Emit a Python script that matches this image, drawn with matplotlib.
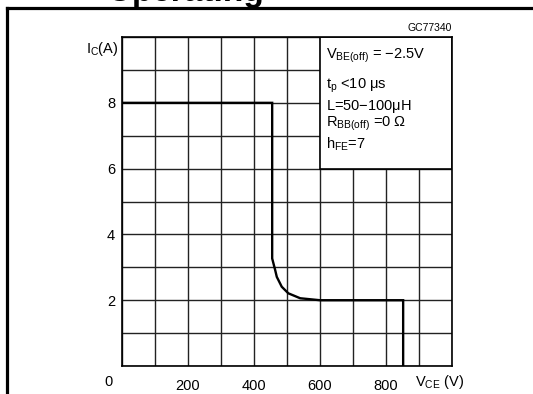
#========================================#
# Reverse biased safe operating area chart
#========================================#
import numpy as np
import matplotlib.pyplot as plt
from matplotlib.patches import Rectangle
from matplotlib.lines import Line2D

plt.rcParams['font.family'] = ['Liberation Sans', 'DejaVu Sans']
plt.rcParams['mathtext.fontset'] = 'custom'
plt.rcParams['mathtext.rm'] = 'Liberation Sans'
plt.rcParams['mathtext.it'] = 'Liberation Sans'

# Data
#========================================#
vce = [0, 455, 455, 464, 469, 484, 504, 540, 600, 852, 852]
ic = [8, 8, 3.27, 2.92, 2.71, 2.41, 2.21, 2.06, 2.0, 2.0, 0]

x_ticks = [200, 400, 600, 800]
y_ticks = [2, 4, 6, 8]
x_grid = np.arange(0, 1001, 100)
y_grid = np.arange(0, 11, 1)

notes = [r"$\mathregular{V_{BE(off)}}$ = $-$2.5V",
         r"t$_\mathregular{p}$ <10 $\mu$s",
         r"L=50$-$100$\mu$H",
         r"$\mathregular{R_{BB(off)}}$ =0 $\Omega$",
         r"$\mathregular{h_{FE}}$=7"]
note_y = [9.35, 8.44, 7.78, 7.27, 6.62]

# Figure
#========================================#
fig = plt.figure(figsize=(5.33, 3.94), dpi=100)
ax = fig.add_axes([0.229, 0.071, 0.619, 0.835])

ax.set_xlim(0, 1000)
ax.set_ylim(0, 10)

# grid
for gx in x_grid:
    ax.axvline(gx, color='#222222', lw=1.0, zorder=1)
for gy in y_grid:
    ax.axhline(gy, color='#222222', lw=1.0, zorder=1)

# notes box (hides the grid in the upper right)
ax.add_patch(Rectangle((600, 6), 400, 4, facecolor='white',
                       edgecolor='black', lw=1.2, zorder=2))
for txt, ty in zip(notes, note_y):
    ax.text(618, ty, txt, fontsize=10.5, va='baseline', ha='left', zorder=3)

# curve
ax.plot(vce, ic, color='black', lw=1.7, zorder=4, solid_joinstyle='miter')

# axes and labels
#========================================#
for s in ax.spines.values():
    s.set_linewidth(1.2)
    s.set_zorder(5)
ax.set_xticks(x_ticks)
ax.set_yticks(y_ticks)
ax.tick_params(length=0, labelsize=10.5)
ax.tick_params(axis='x', pad=9)
ax.tick_params(axis='y', pad=5)

ax.text(-0.042, -0.048, "0", transform=ax.transAxes, fontsize=10.5,
        ha='center', va='center')
ax.text(-0.012, 0.963, r"$\mathregular{I_C}$(A)", transform=ax.transAxes,
        fontsize=10.5, ha='right', va='center')
ax.text(0.888, -0.048, r"$\mathregular{V_{CE}}$ (V)", transform=ax.transAxes,
        fontsize=10.5, ha='left', va='center')
ax.text(1.0, 1.027, "GC77340", transform=ax.transAxes, fontsize=7.5,
        ha='right', va='center')

# outer frame and title (cut off at the top, as in the source)
#========================================#
fig.add_artist(Line2D([7 / 533, 7 / 533], [0, 1 - 8 / 394],
                      transform=fig.transFigure, color='black', lw=2.3))
fig.add_artist(Line2D([7 / 533, 1], [1 - 8 / 394, 1 - 8 / 394],
                      transform=fig.transFigure, color='black', lw=2.3))
fig.text(0.2, 0.9985, "Operating", fontsize=24, fontweight='bold',
         ha='left', va='baseline')

fig.savefig("out.png", dpi=100)
